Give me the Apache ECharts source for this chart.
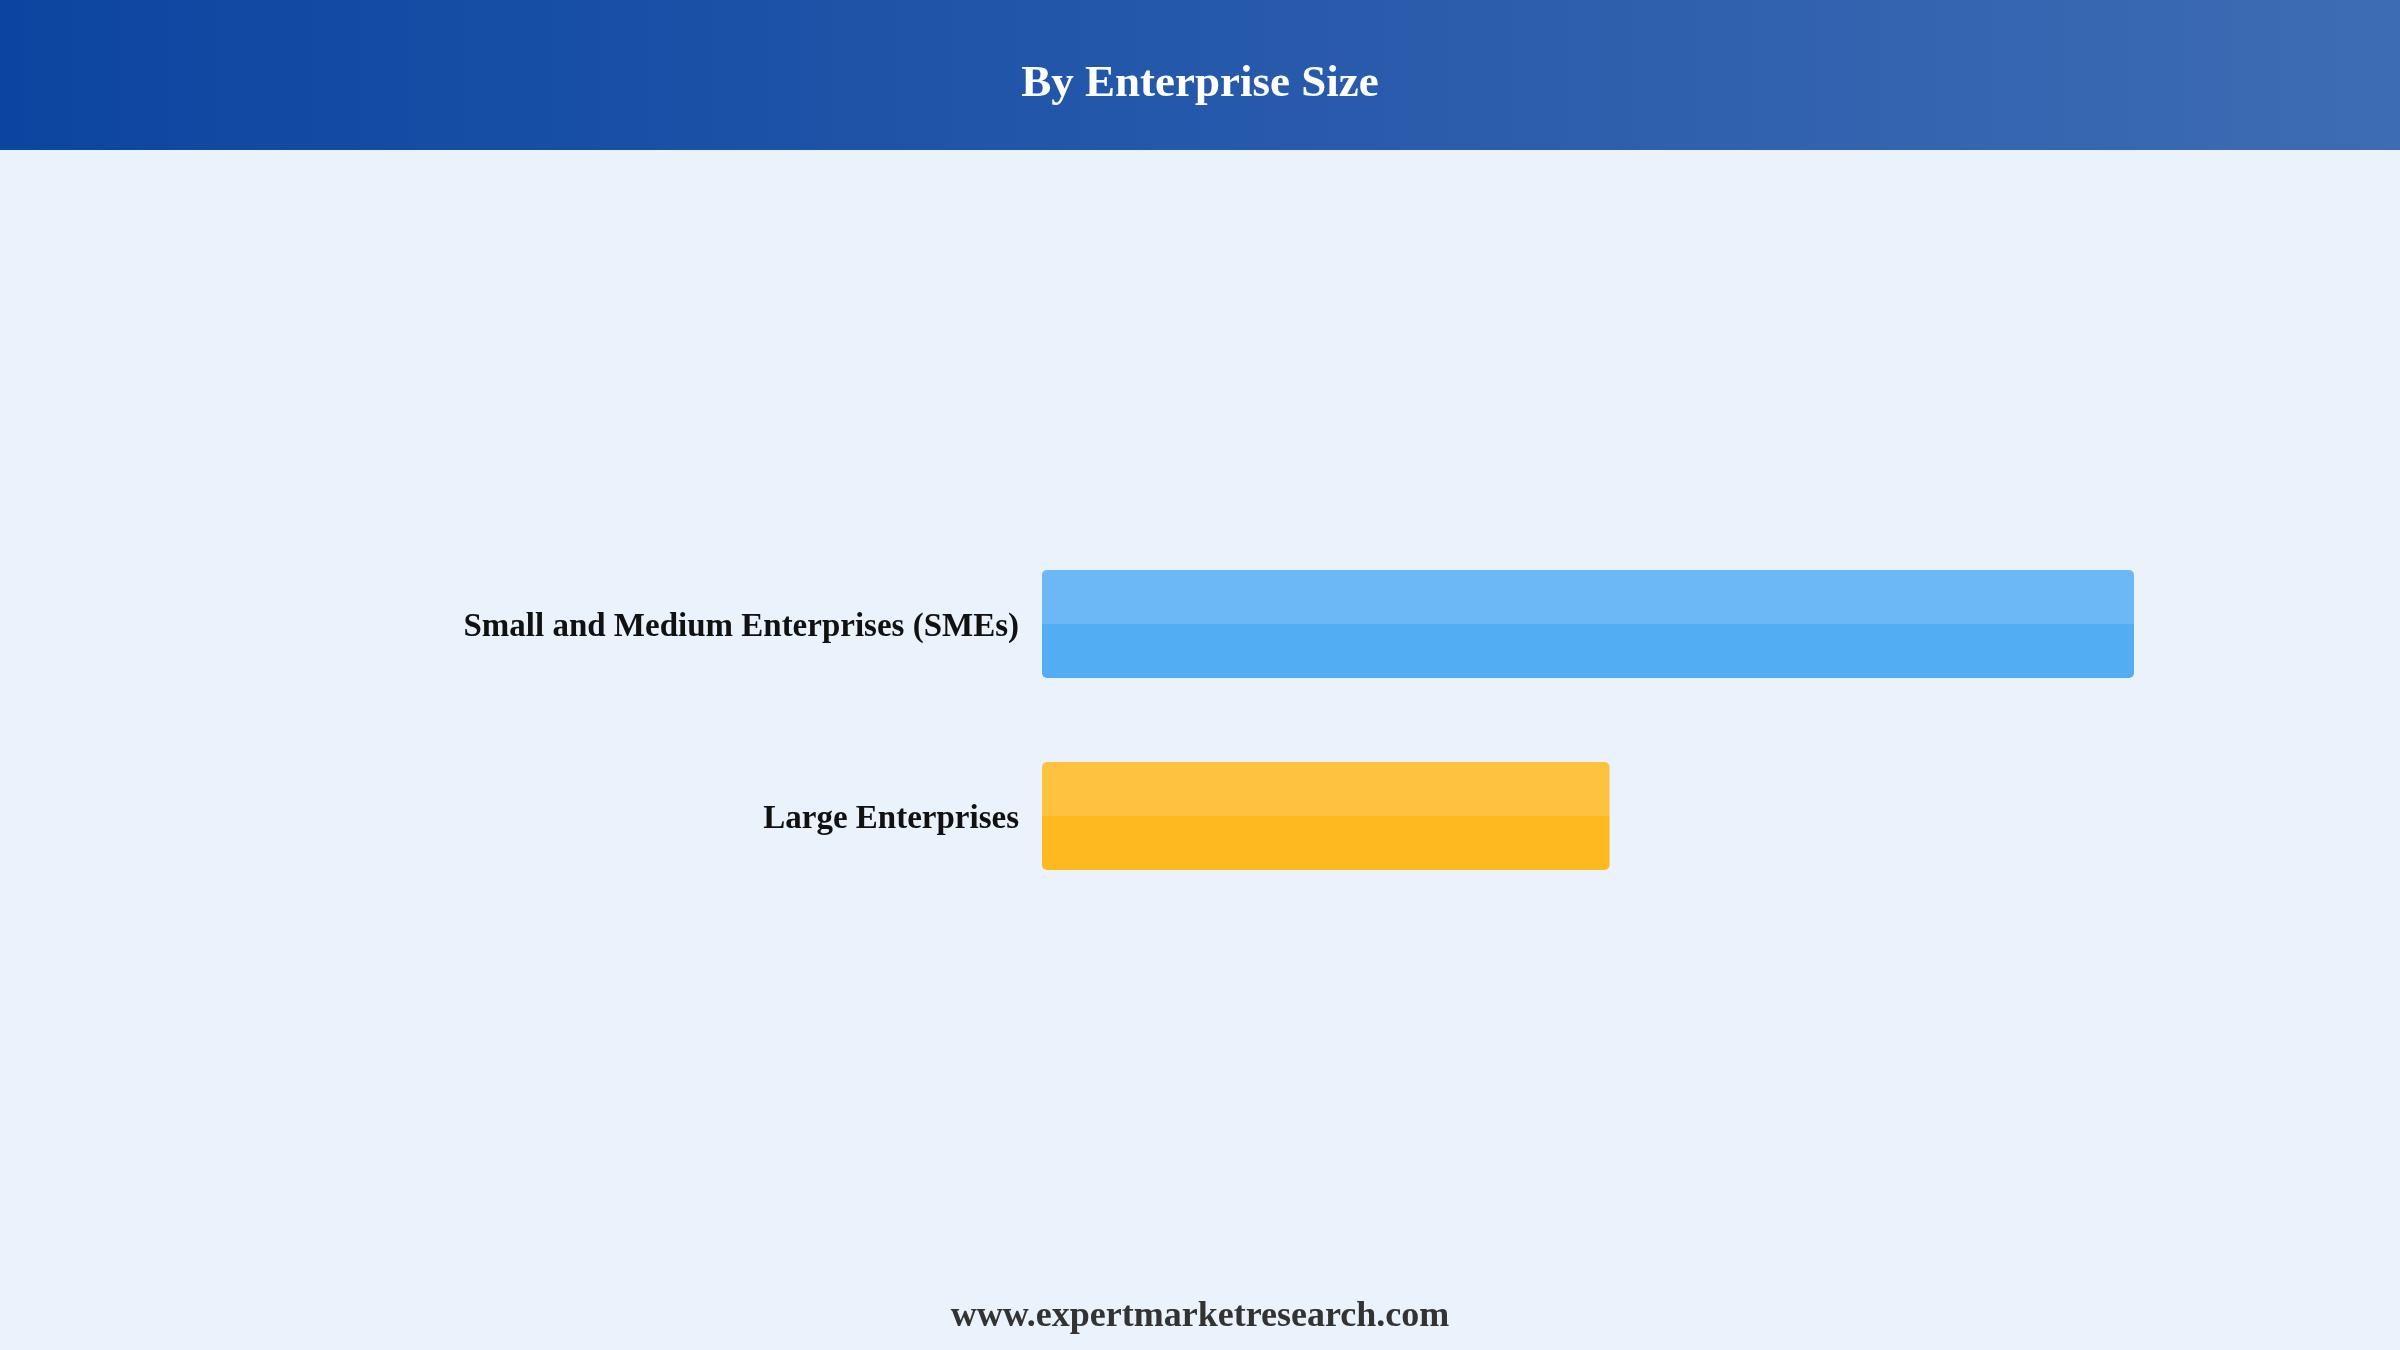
<!DOCTYPE html>
<html>
<head lang="en">
    <meta charset="UTF-8">
    <title>By Enterprise Size</title>
    <script src="https://cdn.jsdelivr.net/npm/echarts@6/dist/echarts.min.js"></script>
    <style>
        html, body { margin: 0; padding: 0; background: #EAF2FC; }
        #size_bar { width: 2400px; height: 1350px; }
    </style>
</head>
<body>

<div id="size_bar"></div>

<script>

    var categories = ['Small and Medium Enterprises (SMEs)', 'Large Enterprises'];
    var shares = [65.8, 34.2];
    var barTop = ['#6CB8F6', '#FDC23F'];
    var barBottom = ['#52ADF3', '#FDB91F'];

    var serifFont = '"Liberation Serif", "Times New Roman", serif';

    function fillGraph(){
        var chart = echarts.init(document.getElementById('size_bar'));

        var barData = [];
        shares.forEach(function(v, i){
            barData.push({
                value: v,
                itemStyle: {
                    // upper half slightly lighter than the lower half
                    color: new echarts.graphic.LinearGradient(0, 0, 0, 1, [
                        {offset: 0, color: barTop[i]},
                        {offset: 0.5, color: barTop[i]},
                        {offset: 0.5, color: barBottom[i]},
                        {offset: 1, color: barBottom[i]}
                    ])
                }
            });
        });

        var option = {
            backgroundColor: '#EAF2FC',
            animation: false,
            graphic: [
                {
                    type: 'rect',
                    left: 0,
                    top: 0,
                    z: 0,
                    shape: {width: 2400, height: 150},
                    style: {
                        fill: new echarts.graphic.LinearGradient(0, 0, 1, 0, [
                            {offset: 0, color: '#0C45A1'},
                            {offset: 1, color: '#3E6CB4'}
                        ])
                    }
                },
                {
                    type: 'text',
                    z: 10,
                    style: {
                        x: 1200,
                        y: 84,
                        text: 'By Enterprise Size',
                        fill: '#FFFFFF',
                        font: 'bold 45px ' + serifFont,
                        textAlign: 'center',
                        textVerticalAlign: 'middle'
                    }
                },
                {
                    type: 'text',
                    style: {
                        x: 1200,
                        y: 1317,
                        text: 'www.expertmarketresearch.com',
                        fill: '#333333',
                        font: 'bold 36px ' + serifFont,
                        textAlign: 'center',
                        textVerticalAlign: 'middle'
                    }
                }
            ],
            grid: {
                left: 1042,
                top: 528,
                width: 1092,
                height: 384,
                containLabel: false
            },
            xAxis: {
                type: 'value',
                min: 0,
                max: Math.max.apply(null, shares),
                show: false
            },
            yAxis: {
                type: 'category',
                data: categories,
                inverse: true,
                axisLine: {show: false},
                axisTick: {show: false},
                splitLine: {show: false},
                axisLabel: {
                    margin: 23,
                    formatter: function(value){
                        return '{lab|' + value + '}';
                    },
                    rich: {
                        lab: {
                            padding: [7, 0, 0, 0],
                            color: '#111111',
                            fontSize: 33,
                            fontWeight: 'bold',
                            fontFamily: serifFont
                        }
                    }
                }
            },
            series: [{
                name: 'Share',
                type: 'bar',
                barWidth: 108,
                itemStyle: {borderRadius: 5},
                data: barData
            }]
        };
        chart.setOption(option);
    }

    fillGraph();

</script>
</body>
</html>
